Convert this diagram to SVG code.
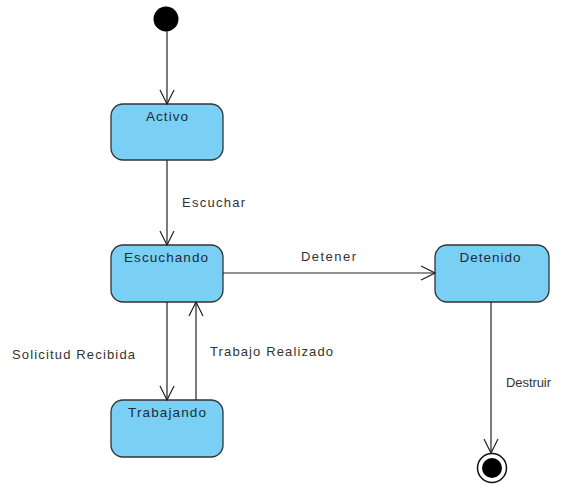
<svg xmlns="http://www.w3.org/2000/svg" width="561" height="487" viewBox="0 0 561 487">
<defs>
<style>
.state rect{fill:#79cff4;stroke:#333;stroke-width:1.3}
.state text{font-family:"Liberation Sans",Arial,sans-serif;font-size:13.5px;fill:#1e2b38;text-anchor:middle}
.lbl{font-family:"Liberation Sans",Arial,sans-serif;font-size:13px;fill:#333}
.conn line{stroke:#222;stroke-width:1.2;fill:none}
</style>
<marker id="open" viewBox="0 0 16 16" refX="15" refY="8" markerWidth="16" markerHeight="16" markerUnits="userSpaceOnUse" orient="auto">
<path d="M1,1 L15,8 L1,15" fill="none" stroke="#222" stroke-width="1.2"/>
</marker>
</defs>
<rect width="561" height="487" fill="#fff"/>
<g id="initial"><circle cx="166" cy="19" r="12.5" fill="#000"/></g>
<g id="activo" class="state"><rect x="111" y="104" width="112" height="56" rx="12"/><text x="167" y="121" textLength="42" lengthAdjust="spacing">Activo</text></g>
<g id="escuchando" class="state"><rect x="111" y="245" width="112" height="57" rx="12"/><text x="166" y="262" textLength="84" lengthAdjust="spacing">Escuchando</text></g>
<g id="trabajando" class="state"><rect x="111" y="400" width="112" height="57" rx="12"/><text x="167" y="417" textLength="78" lengthAdjust="spacing">Trabajando</text></g>
<g id="detenido" class="state"><rect x="435" y="245" width="114" height="57" rx="12"/><text x="490" y="262" textLength="61" lengthAdjust="spacing">Detenido</text></g>
<g id="final"><circle cx="492" cy="468" r="14.5" fill="#fff" stroke="#111" stroke-width="1.5"/><circle cx="492" cy="468" r="10" fill="#000"/></g>
<g id="connectors" class="conn">
<line x1="167" y1="31" x2="167" y2="104" marker-end="url(#open)"/>
<line x1="167" y1="160" x2="167" y2="245" marker-end="url(#open)"/>
<line x1="167" y1="302" x2="167" y2="400" marker-end="url(#open)"/>
<line x1="196" y1="400" x2="196" y2="302" marker-end="url(#open)"/>
<line x1="223" y1="273" x2="435" y2="273" marker-end="url(#open)"/>
<line x1="491" y1="302" x2="491" y2="453" marker-end="url(#open)"/>
</g>
<g id="labels">
<text class="lbl" x="182" y="207" textLength="63" lengthAdjust="spacing">Escuchar</text>
<text class="lbl" x="301" y="261" textLength="55" lengthAdjust="spacing">Detener</text>
<text class="lbl" x="12" y="359" textLength="123" lengthAdjust="spacing">Solicitud Recibida</text>
<text class="lbl" x="210" y="356" textLength="123" lengthAdjust="spacing">Trabajo Realizado</text>
<text class="lbl" x="506" y="387" textLength="45" lengthAdjust="spacing">Destruir</text>
</g>
</svg>
